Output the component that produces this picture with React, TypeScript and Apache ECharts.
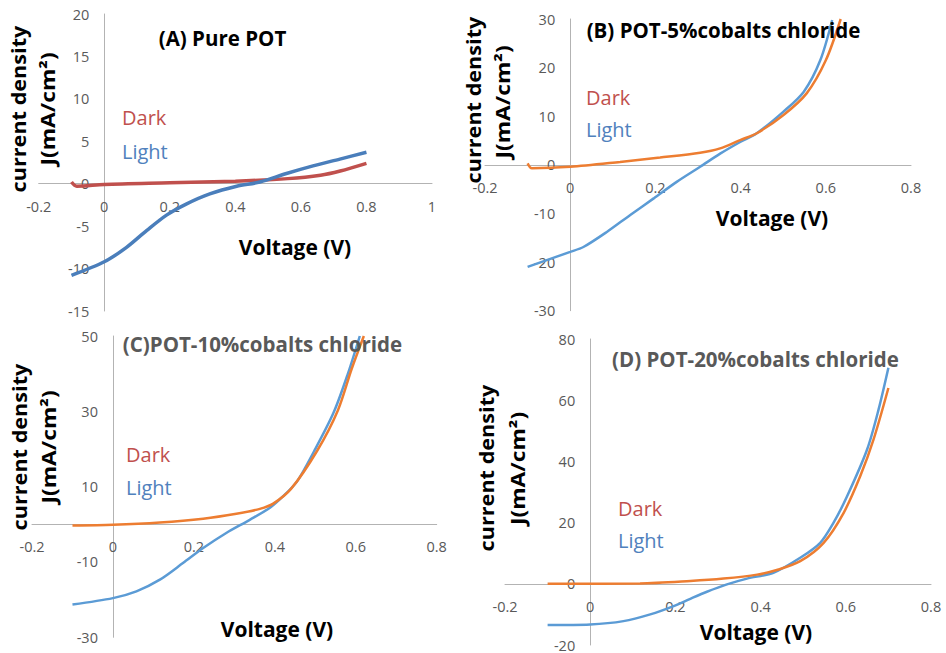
import React, { useEffect, useRef } from "react";
import * as echarts from "echarts";

// ---------- Data ----------
// Panel A: Pure POT
const voltA_dark = [-0.1, -0.084, 0, 0.2, 0.4, 0.56, 0.66, 0.72, 0.8];
const jA_dark = [0.2, -0.3, -0.1, 0.1, 0.3, 0.6, 1.0, 1.5, 2.4];
const voltA_light = [-0.1, 0, 0.068, 0.13, 0.19, 0.25, 0.322, 0.404, 0.475, 0.556, 0.637, 0.719, 0.8];
const jA_light = [-10.8, -9.2, -7.5, -5.5, -3.7, -2.4, -1.2, -0.3, 0.2, 1.2, 2.1, 2.9, 3.7];

// Panel B: POT-5% cobalts chloride
const voltB_dark = [-0.1, -0.09, 0, 0.117, 0.211, 0.305, 0.352, 0.399, 0.438, 0.5, 0.555, 0.6, 0.635];
const jB_dark = [0.3, -0.7, -0.4, 0.6, 1.5, 2.5, 3.4, 5.1, 6.5, 10.2, 14.7, 21.5, 30];
const voltB_light = [-0.1, 0, 0.031, 0.086, 0.141, 0.196, 0.25, 0.305, 0.352, 0.399, 0.438, 0.5, 0.548, 0.587, 0.615];
const jB_light = [-21, -17.9, -16.9, -13.8, -10.3, -6.9, -3.5, -0.4, 2.3, 4.7, 6.5, 10.9, 15, 21.5, 29.8];

// Panel C: POT-10% cobalts chloride
const voltC_dark = [-0.1, 0, 0.116, 0.223, 0.305, 0.363, 0.396, 0.44, 0.505, 0.556, 0.59, 0.62];
const jC_dark = [-0.3, -0.1, 0.5, 1.5, 2.8, 4.1, 5.5, 9.4, 19.6, 30.3, 41.3, 50];
const voltC_light = [-0.1, 0, 0.058, 0.116, 0.173, 0.223, 0.28, 0.338, 0.388, 0.42, 0.455, 0.497, 0.545, 0.58, 0.61];
const jC_light = [-21.3, -19.6, -17.8, -14.7, -10.3, -6.3, -2.3, 1.2, 4.4, 7.4, 11.4, 19.4, 29.6, 39.8, 50];

// Panel D: POT-20% cobalts chloride
const voltD_dark = [-0.1, 0.117, 0.235, 0.313, 0.392, 0.438, 0.493, 0.548, 0.595, 0.634, 0.665, 0.7];
const jD_dark = [0, 0.1, 0.9, 1.7, 3, 4.5, 7.4, 13.4, 23.2, 35.2, 47.1, 64];
const voltD_light = [-0.1, 0, 0.078, 0.141, 0.196, 0.235, 0.274, 0.321, 0.368, 0.43, 0.493, 0.54, 0.571, 0.603, 0.65, 0.677, 0.7];
const jD_light = [-13.5, -13.3, -12.2, -10, -7.3, -4.9, -2.6, -0.2, 1.7, 3.6, 8.5, 13.4, 19.9, 28.6, 43.9, 57, 70.6];

// Axis ranges / ticks: [min, max, interval]
const xRangeA = [-0.2, 1, 0.2];
const yRangeA = [-15, 20, 5];
const xRangeB = [-0.2, 0.8, 0.2];
const yRangeB = [-30, 30, 10];
const xRangeC = [-0.2, 0.8, 0.2];
const yRangeC = [-30, 50, 20];
const xRangeD = [-0.2, 0.8, 0.2];
const yRangeD = [-20, 80, 20];

const titles = [
  "(A) Pure POT",
  "(B) POT-5%cobalts chloride",
  "(C)POT-10%cobalts chloride",
  "(D) POT-20%cobalts chloride",
];
const legendDark = "Dark";
const legendLight = "Light";
const yTitle1 = "current density";
const yTitle2 = "J(mA/cm²)";
const xTitle = "Voltage (V)";

// ---------- Styling ----------
const FONT = '"Open Sans", sans-serif';
const AXIS_GRAY = "#b3b3b3";
const LABEL_GRAY = "#595959";

const zip = (xs: number[], ys: number[]) => xs.map((x, i) => [x, ys[i]]);

type Panel = {
  grid: { left: number; top: number; width: number; height: number };
  xr: number[];
  yr: number[];
  dark: number[][];
  light: number[][];
  darkColor: string;
  lightColor: string;
  lineWidth: number;
  title: string;
  titleColor: string;
  titlePos: [number, number];
  legendPos: [number, number, number];
  xTitlePos: [number, number];
  yTitle1Pos: [number, number];
  yTitle2Pos: [number, number];
};

const panels: Panel[] = [
  {
    grid: { left: 38.7, top: 14, width: 393.3, height: 297 },
    xr: xRangeA, yr: yRangeA,
    dark: zip(voltA_dark, jA_dark), light: zip(voltA_light, jA_light),
    darkColor: "#C0504D", lightColor: "#4A7EBB", lineWidth: 3.5,
    title: titles[0], titleColor: "#000000", titlePos: [222.5, 38],
    legendPos: [122, 117, 151], xTitlePos: [295, 247],
    yTitle1Pos: [19, 109], yTitle2Pos: [48, 109],
  },
  {
    grid: { left: 485, top: 19, width: 426, height: 291.7 },
    xr: xRangeB, yr: yRangeB,
    dark: zip(voltB_dark, jB_dark), light: zip(voltB_light, jB_light),
    darkColor: "#ED7D31", lightColor: "#5B9BD5", lineWidth: 2.5,
    title: titles[1], titleColor: "#000000", titlePos: [723.5, 30],
    legendPos: [586, 97, 129], xTitlePos: [772, 218],
    yTitle1Pos: [473.5, 100], yTitle2Pos: [502.5, 102],
  },
  {
    grid: { left: 32, top: 336, width: 404.7, height: 301.3 },
    xr: xRangeC, yr: yRangeC,
    dark: zip(voltC_dark, jC_dark), light: zip(voltC_light, jC_light),
    darkColor: "#ED7D31", lightColor: "#5B9BD5", lineWidth: 2.5,
    title: titles[2], titleColor: "#595959", titlePos: [262.5, 344],
    legendPos: [126, 454, 487], xTitlePos: [277, 629],
    yTitle1Pos: [20, 447], yTitle2Pos: [49, 447],
  },
  {
    grid: { left: 505, top: 339, width: 426, height: 306 },
    xr: xRangeD, yr: yRangeD,
    dark: zip(voltD_dark, jD_dark), light: zip(voltD_light, jD_light),
    darkColor: "#ED7D31", lightColor: "#5B9BD5", lineWidth: 2.5,
    title: titles[3], titleColor: "#595959", titlePos: [755.5, 359],
    legendPos: [618, 508, 540], xTitlePos: [756, 632],
    yTitle1Pos: [487, 468], yTitle2Pos: [517.5, 468.5],
  },
];

function buildOption() {
  const grid = panels.map((p) => ({ ...p.grid, outerBoundsMode: "none", containLabel: false }));
  const axisCommon = {
    type: "value",
    axisLine: { show: true, onZero: false, lineStyle: { color: AXIS_GRAY, width: 1 } },
    axisTick: { show: false },
    splitLine: { show: false },
    axisLabel: { color: LABEL_GRAY, fontFamily: FONT, fontSize: 14.5, margin: 15, hideOverlap: false },
  };
  // Place each axis where the other axis is zero (Excel "axis crosses at 0").
  const xAxis = panels.map((p, i) => ({
    ...axisCommon, gridIndex: i, position: "bottom",
    offset: -p.grid.height * (0 - p.yr[0]) / (p.yr[1] - p.yr[0]),
    min: p.xr[0], max: p.xr[1], interval: p.xr[2],
  }));
  const yAxis = panels.map((p, i) => ({
    ...axisCommon, gridIndex: i, position: "left",
    offset: -p.grid.width * (0 - p.xr[0]) / (p.xr[1] - p.xr[0]),
    min: p.yr[0], max: p.yr[1], interval: p.yr[2],
  }));
  const series: any[] = [];
  panels.forEach((p, i) => {
    series.push({
      type: "line", name: legendDark + i, xAxisIndex: i, yAxisIndex: i, data: p.dark,
      showSymbol: false, smooth: 0.3,
      lineStyle: { color: p.darkColor, width: p.lineWidth }, z: 2,
    });
    series.push({
      type: "line", name: legendLight + i, xAxisIndex: i, yAxisIndex: i, data: p.light,
      showSymbol: false, smooth: 0.3,
      lineStyle: { color: p.lightColor, width: p.lineWidth }, z: i === 0 ? 3 : 1,
    });
  });
  const graphic: any[] = [];
  panels.forEach((p) => {
    graphic.push({
      type: "text", x: p.titlePos[0], y: p.titlePos[1], z: 10,
      style: { text: p.title, fill: p.titleColor, fontFamily: FONT, fontWeight: "bold", fontSize: 20.5, align: "center", verticalAlign: "middle" },
    });
    graphic.push({
      type: "text", x: p.legendPos[0], y: p.legendPos[1], z: 10,
      style: { text: legendDark, fill: "#C0504D", fontFamily: FONT, fontSize: 20, align: "left", verticalAlign: "middle" },
    });
    graphic.push({
      type: "text", x: p.legendPos[0], y: p.legendPos[2], z: 10,
      style: { text: legendLight, fill: "#4F81BD", fontFamily: FONT, fontSize: 20, align: "left", verticalAlign: "middle" },
    });
    graphic.push({
      type: "text", x: p.xTitlePos[0], y: p.xTitlePos[1], z: 10,
      style: { text: xTitle, fill: "#000000", fontFamily: FONT, fontWeight: "bold", fontSize: 21, align: "center", verticalAlign: "middle" },
    });
    graphic.push({
      type: "text", x: p.yTitle1Pos[0], y: p.yTitle1Pos[1], rotation: Math.PI / 2, scaleX: 1.14, z: 10,
      style: { text: yTitle1, fill: "#000000", fontFamily: FONT, fontWeight: "bold", fontSize: 19, align: "center", verticalAlign: "middle" },
    });
    graphic.push({
      type: "text", x: p.yTitle2Pos[0], y: p.yTitle2Pos[1], rotation: Math.PI / 2, scaleX: 1.2, z: 10,
      style: { text: yTitle2, fill: "#000000", fontFamily: FONT, fontWeight: "bold", fontSize: 19, align: "center", verticalAlign: "middle" },
    });
  });
  return {
    animation: false,
    backgroundColor: "#ffffff",
    grid, xAxis, yAxis, series, graphic,
  };
}

export default function App() {
  const ref = useRef<HTMLDivElement>(null);
  useEffect(() => {
    if (!ref.current) return;
    const chart = echarts.init(ref.current, undefined, { renderer: "svg" });
    chart.setOption(buildOption() as any);
    return () => chart.dispose();
  }, []);
  return (
    <div
      ref={ref}
      style={{ position: "fixed", left: 0, top: 0, width: 946, height: 653, background: "#fff" }}
    />
  );
}
